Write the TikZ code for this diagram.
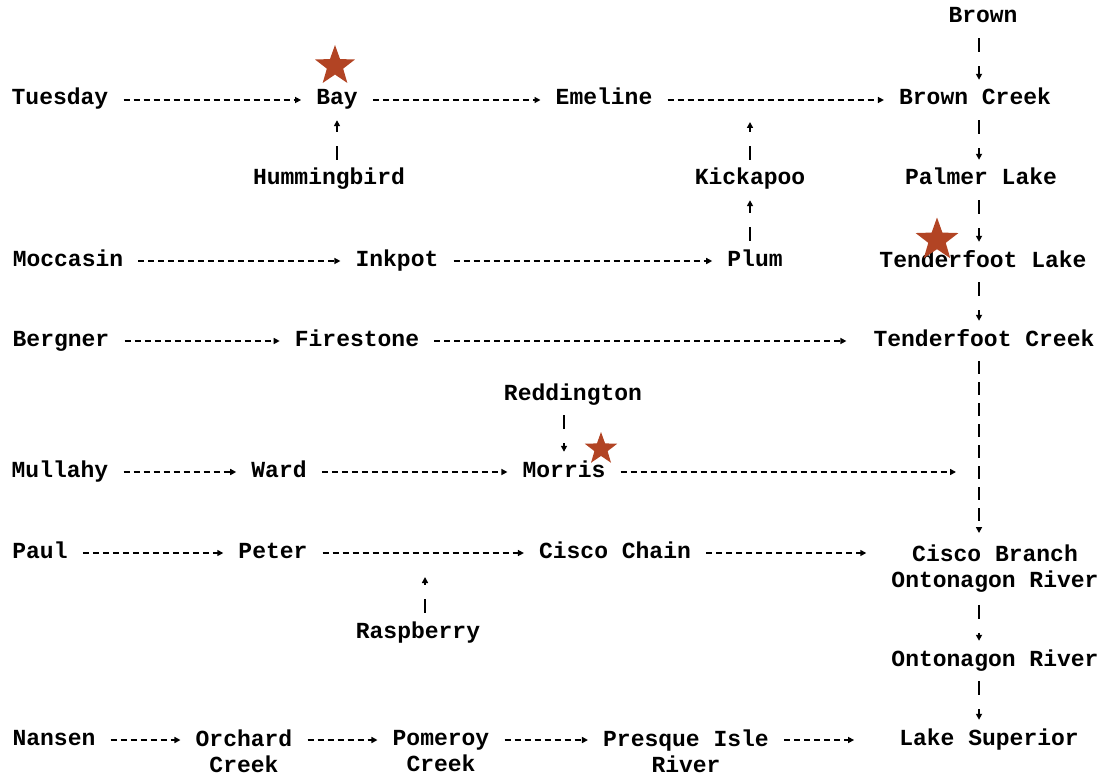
\documentclass[tikz,border=0pt]{standalone}
\usepackage{fontspec}
\setmonofont{Liberation Mono}
\usetikzlibrary{shapes.geometric,arrows.meta,calc}
\definecolor{starred}{RGB}{178,68,36}

\begin{document}
\begin{tikzpicture}[
    x=1pt,
    y=-1pt,
    every node/.style={font=\ttfamily\bfseries\fontsize{23}{26}\selectfont,inner xsep=15pt,inner ysep=12pt,text height=13pt,text depth=3pt},
    twoline/.style={align=center,text height=,text depth=},
    redstar/.style={star,star points=5,star point ratio=2.45,fill=starred,inner sep=0pt,text height=0pt,text depth=0pt},
    flow/.style={line width=1.5pt,dash pattern=on 6pt off 4pt,-{Triangle[length=6pt,width=6pt]}},
    drop/.style={line width=1.5pt,dash pattern=on 14pt off 14pt,-{Triangle[length=6pt,width=6pt]}},
    longdrop/.style={line width=1.5pt,dash pattern=on 13pt off 8pt,-{Triangle[length=6pt,width=6pt]}}
    ]
    \useasboundingbox (0,0) rectangle (1107,778);

    \node (brown)       at (983, 18) {Brown};
    \node (tuesday)     at ( 60,100) {Tuesday};
    \node (bay)         at (337,100) {Bay};
    \node (emeline)     at (604,100) {Emeline};
    \node (browncreek)  at (975,100) {Brown Creek};

    \node (hummingbird) at (329,180) {Hummingbird};
    \node (kickapoo)    at (750,180) {Kickapoo};
    \node (palmer)      at (981,180) {Palmer Lake};

    \node (moccasin)    at ( 68,261) {Moccasin};
    \node (inkpot)      at (397,261) {Inkpot};
    \node (plum)        at (755,261) {Plum};
    \node (tflake)      at (983,262) {Tenderfoot Lake};

    \node (bergner)     at ( 61,341) {Bergner};
    \node (firestone)   at (357,341) {Firestone};
    \node (tfcreek)     at (984,341) {Tenderfoot Creek};

    \node (reddington)  at (573,395) {Reddington};
    \node (mullahy)     at ( 60,472) {Mullahy};
    \node (ward)        at (279,472) {Ward};
    \node (morris)      at (564,472) {Morris};

    \node (paul)        at ( 40,553) {Paul};
    \node (peter)       at (273,553) {Peter};
    \node (ciscochain)  at (615,553) {Cisco Chain};
    \node[twoline] (ciscobranch) at (995,569) {Cisco Branch\\Ontonagon River};
    \node (raspberry)   at (418,633) {Raspberry};
    \node (ontonagon)   at (995,661) {Ontonagon River};

    \node (nansen)      at ( 54,740) {Nansen};
    \node[twoline] (orchard) at (244,751) {Orchard\\Creek};
    \node[twoline] (pomeroy) at (441,751) {Pomeroy\\Creek};
    \node[twoline] (presque) at (686,751) {Presque Isle\\River};
    \node (lakesup)     at (989,740) {Lake Superior};

    % stars
    \node[redstar,minimum size=42pt] (baystar)    at (335, 66) {};
    \node[redstar,minimum size=45pt] (lakestar)   at (937,240) {};
    \node[redstar,minimum size=34pt] (morrisstar) at (601,449) {};

    % free ends
    \coordinate (trunk) at (979,0);
    \coordinate (kj) at (750,122);
    \coordinate (mj) at (956,472);
    \coordinate (rj) at (425,577);

    % main stem
    \draw[drop] (brown.south -| trunk) -- (browncreek.north -| trunk);
    \draw[drop] (browncreek.south -| trunk) -- (palmer.north -| trunk);
    \draw[drop] (palmer.south -| trunk) -- (tflake.north -| trunk);
    \draw[drop] (tflake.south -| trunk) -- (tfcreek.north -| trunk);
    \draw[longdrop] (tfcreek.south -| trunk) -- (ciscobranch.north -| trunk);
    \draw[drop] (ciscobranch.south -| trunk) -- (ontonagon.north -| trunk);
    \draw[drop] (ontonagon.south -| trunk) -- (lakesup.north -| trunk);

    % first row
    \draw[flow] (tuesday) -- (bay);
    \draw[flow] (bay) -- (emeline);
    \draw[flow] (emeline) -- (browncreek);
    \draw[drop] (hummingbird.north -| bay) -- (bay.south);
    \draw[drop] (plum.north -| kickapoo) -- (kickapoo.south);
    \draw[drop] (kickapoo) -- (kj);

    % inkpot, firestone
    \draw[flow] (moccasin) -- (inkpot);
    \draw[flow] (inkpot) -- (plum);
    \draw[flow] (bergner) -- (firestone);
    \draw[flow,shorten >=12pt] (firestone) -- (tfcreek);

    % morris
    \draw[drop] (reddington.south -| morris) -- (morris.north);
    \draw[flow] (mullahy) -- (ward);
    \draw[flow] (ward) -- (morris);
    \draw[flow] (morris) -- (mj);

    % cisco
    \draw[flow] (paul) -- (peter);
    \draw[flow] (peter) -- (ciscochain);
    \draw[flow,shorten >=10pt] (ciscochain) -- (ciscochain -| ciscobranch.west);
    \draw[drop] (raspberry.north -| rj) -- (rj);

    % bottom row
    \draw[flow] (nansen) -- (nansen -| orchard.west);
    \draw[flow] (orchard.east |- nansen) -- (nansen -| pomeroy.west);
    \draw[flow] (pomeroy.east |- nansen) -- (nansen -| presque.west);
    \draw[flow,shorten >=30pt] (presque.east |- lakesup) -- (lakesup);
  \end{tikzpicture}
\end{document}
